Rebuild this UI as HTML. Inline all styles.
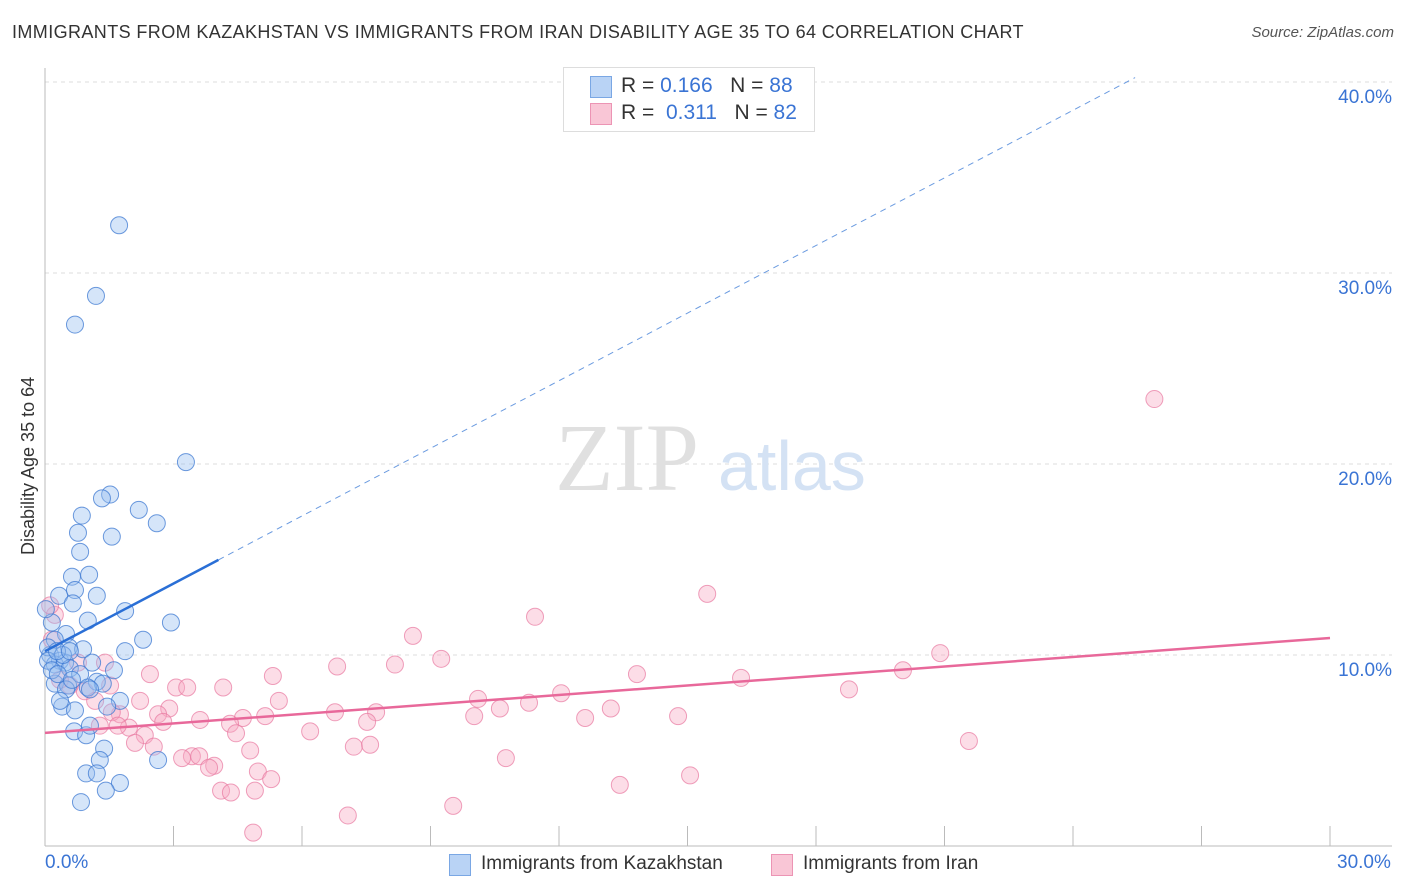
<!DOCTYPE html>
<html><head><meta charset="utf-8"><style>
body{margin:0;background:#fff;font-family:"Liberation Sans",sans-serif;}
#wrap{position:relative;width:1406px;height:892px;overflow:hidden;}
.t{position:absolute;white-space:nowrap;}
</style></head><body>
<div id="wrap">
<div class="t" style="left:12px;top:22px;font-size:18px;letter-spacing:0.4px;color:#333;">IMMIGRANTS FROM KAZAKHSTAN VS IMMIGRANTS FROM IRAN DISABILITY AGE 35 TO 64 CORRELATION CHART</div>
<div class="t" style="right:12px;top:24px;font-size:15px;color:#555;font-style:italic;">Source: ZipAtlas.com</div>
<svg id="svg" width="1406" height="892" style="position:absolute;left:0;top:0"></svg>
</div>
<script>
const blueX=[1.73,1.19,0.70,3.29,1.52,1.33,2.19,2.61,0.86,0.77,1.56,0.82,0.63,1.03,0.33,0.70,1.21,0.65,1.87,2.94,1.00,2.29,0.49,0.16,0.23,0.56,1.87,0.89,0.12,0.35,0.23,0.47,1.10,1.61,0.58,0.82,0.23,1.21,1.35,0.54,1.00,1.75,0.40,0.70,1.45,0.68,0.96,1.05,1.38,1.28,0.96,1.21,1.75,1.42,0.84,2.64,0.07,0.07,0.16,0.30,0.49,0.63,0.35,1.05,0.02,0.42,0.28,0.58];
const blueY=[32.5,28.8,27.3,20.1,18.4,18.2,17.6,16.9,17.3,16.4,16.2,15.4,14.1,14.2,13.1,13.4,13.1,12.7,12.3,11.7,11.8,10.8,11.1,11.7,10.8,10.4,10.2,10.3,10.0,9.7,9.5,9.6,9.6,9.2,9.3,9.0,8.5,8.6,8.5,8.4,8.3,7.6,7.3,7.1,7.3,6.0,5.8,6.3,5.1,4.5,3.8,3.8,3.3,2.9,2.3,4.5,10.4,9.7,9.2,9.0,8.2,8.7,7.6,8.2,12.4,10.0,10.2,10.2];
const pinkX=[25.9,15.46,11.44,8.59,20.9,9.25,6.82,8.17,5.32,2.45,3.06,3.32,4.16,13.82,16.25,18.77,20.03,10.11,12.05,11.30,13.21,10.62,10.02,12.61,14.78,7.73,7.52,6.77,5.46,2.90,2.64,3.62,4.62,5.14,4.32,4.46,6.19,2.76,1.96,2.33,2.10,2.54,4.79,7.21,7.59,10.76,21.57,3.43,3.20,3.60,3.95,3.83,4.97,5.28,15.06,13.42,4.11,4.34,4.90,9.53,7.07,4.86,1.75,1.56,1.28,0.93,0.58,0.35,0.23,0.12,0.16,0.77,1.40,1.52,1.17,1.70,2.22];
const pinkY=[23.4,13.2,12.0,11.0,10.1,9.8,9.4,9.5,8.9,9.0,8.3,8.3,8.3,9.0,8.8,8.2,9.2,7.7,8.0,7.5,7.2,7.2,6.8,6.7,6.8,7.0,6.5,7.0,7.6,7.2,6.9,6.6,6.7,6.8,6.4,5.9,6.0,6.5,6.2,5.8,5.4,5.2,5.0,5.2,5.3,4.6,5.5,4.7,4.6,4.7,4.2,4.1,3.9,3.5,3.7,3.2,2.9,2.8,2.9,2.1,1.6,0.7,6.9,7.0,6.3,8.1,8.4,8.7,12.1,12.6,10.8,9.6,9.6,8.4,7.6,6.3,7.6];
const yTicks=[10,20,30,40];
const yTickLabels=["10.0%","20.0%","30.0%","40.0%"];
const blueTrend=[10.2,1.18];
const pinkTrend=[5.92,0.1657];
const NS="http://www.w3.org/2000/svg";
const svg=document.getElementById('svg');
const X=v=>45+v/30*1285;
const Y=v=>846-v*19.1;
function mk(tag,a){const e=document.createElementNS(NS,tag);for(const k in a)e.setAttribute(k,a[k]);svg.appendChild(e);return e;}
yTicks.forEach((t,i)=>{
 const g=mk('line',{x1:45,x2:1392,y1:Y(t),y2:Y(t),stroke:'#ddd','stroke-dasharray':'4,4'});
 
 
 const tx=mk('text',{x:1392,y:Y(t)+21,'text-anchor':'end','font-size':19,fill:'#3a74d4','font-family':'Liberation Sans'});
 tx.textContent=yTickLabels[i];
 
 
});
const ax=mk('line',{x1:45,x2:45,y1:68,y2:846,stroke:'#bbb'});


const bx=mk('line',{x1:45,x2:1392,y1:846,y2:846,stroke:'#bbb'});


for(let i=1;i<=10;i++){const tk=mk('line',{x1:X(i*3),x2:X(i*3),y1:826,y2:846,stroke:'#bbb'});
 
 }
const wm1=mk('text',{x:555,y:490,'font-size':96,fill:'#e0e0e0','font-family':'Liberation Serif'});wm1.textContent='ZIP';


const wm2=mk('text',{x:718,y:490,'font-size':70,fill:'#d4e2f4','font-family':'Liberation Sans'});wm2.textContent='atlas';


pinkX.forEach((x,i)=>{const c=mk('circle',{cx:X(x),cy:Y(pinkY[i]),r:8.5,fill:'rgba(248,170,195,0.4)',stroke:'rgba(232,120,160,0.7)','stroke-width':1});
 
 });
blueX.forEach((x,i)=>{const c=mk('circle',{cx:X(x),cy:Y(blueY[i]),r:8.5,fill:'rgba(150,190,240,0.4)',stroke:'rgba(60,120,210,0.75)','stroke-width':1});
 
 });
const bs=mk('line',{x1:X(0),y1:Y(blueTrend[0]),x2:X(4.05),y2:Y(blueTrend[0]+blueTrend[1]*4.05),stroke:'#2a6fd6','stroke-width':2.5});


const bd=mk('line',{x1:X(4.05),y1:Y(blueTrend[0]+blueTrend[1]*4.05),x2:X(25.45),y2:Y(blueTrend[0]+blueTrend[1]*25.45),stroke:'#6b9be0','stroke-width':1,'stroke-dasharray':'6,5'});


const pl=mk('line',{x1:X(0),y1:Y(pinkTrend[0]),x2:X(30),y2:Y(pinkTrend[0]+pinkTrend[1]*30),stroke:'#e8689a','stroke-width':2.5});


</script>
<div class="t" style="left:18px;top:555px;transform:rotate(-90deg);transform-origin:0 0;font-size:18px;color:#333;">Disability Age 35 to 64</div>
<div class="t" style="left:45px;top:852px;font-size:19px;color:#3a74d4;">0.0%</div>
<div class="t" style="left:1337px;top:852px;font-size:19px;color:#3a74d4;">30.0%</div>
<div style="position:absolute;left:563px;top:67px;width:250px;height:63px;border:1px solid #ddd;background:#fff;font-size:21px;">
 <div style="position:absolute;left:26px;top:8px;width:20px;height:20px;background:#b9d3f5;border:1px solid #7aa7e4;"></div>
 <div class="t" style="left:57px;top:6px;color:#333;">R = <span style="color:#3a74d4">0.166</span>&nbsp;&nbsp;&nbsp;N = <span style="color:#3a74d4">88</span></div>
 <div style="position:absolute;left:26px;top:35px;width:20px;height:20px;background:#f9c6d6;border:1px solid #ec94b4;"></div>
 <div class="t" style="left:57px;top:33px;color:#333;">R = &nbsp;<span style="color:#3a74d4">0.311</span>&nbsp;&nbsp;&nbsp;N = <span style="color:#3a74d4">82</span></div>
</div>
<div style="position:absolute;left:449px;top:854px;width:20px;height:20px;background:#b9d3f5;border:1px solid #7aa7e4;"></div>
<div class="t" style="left:481px;top:853px;font-size:19px;color:#333;">Immigrants from Kazakhstan</div>
<div style="position:absolute;left:771px;top:854px;width:20px;height:20px;background:#f9c6d6;border:1px solid #ec94b4;"></div>
<div class="t" style="left:803px;top:853px;font-size:19px;color:#333;">Immigrants from Iran</div>
</body></html>
